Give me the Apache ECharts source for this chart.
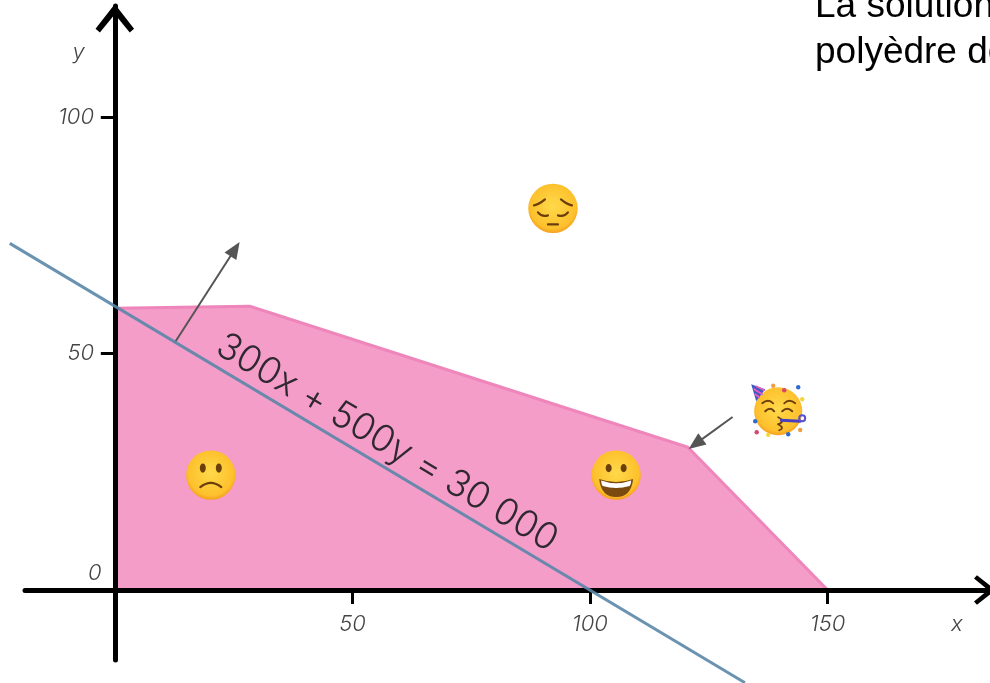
<!DOCTYPE html>
<html><head><meta charset="utf-8">
<style>html,body{margin:0;padding:0;background:#fff}#c{width:990px;height:683px}</style>
<script src="https://cdn.jsdelivr.net/npm/echarts@6/dist/echarts.min.js"></script>
</head><body><div id="c"></div>
<script>
const feasibleRegion = [[0,59.6],[28.4,60],[120.6,30.2],[150,0]];
const isoProfitLine = [[-22.1,73.3],[132.6,-19.6]];
const xTicks = [50,100,150];
const yTicks = [50,100];
const gradientArrow = [[12.6,52.3],[25.3,72.1]];
const optimumArrow = [[130,36.6],[122.2,30.9]];
const emojiSad = [[92.2,80.7]];
const emojiParty = [[139.6,37.8]];
const emojiFrown = [[20.2,24.3]];
const emojiGrin = [[105.5,24.3]];
const plotLabels = [
  {t:'0', at:[-4.2,3.6]},
  {t:'x', at:[177.2,-7.2]},
  {t:'y', at:[-7.6,113.6]}
];
const equationText = '300x + 500y = 30 000';
const equationAt = [57.3,31.1];
const introLines = ['La solution','polyèdre de'];

const chevronY = 'path://M0 23L18 0H22L40 23L35.5 27L20 8L4.5 27Z';
const inkFont = 'Inter';
const textFont = 'Liberation Sans';

function faceBase(cx,cy,r){
  return {type:'circle',shape:{cx,cy,r},style:{fill:new echarts.graphic.RadialGradient(0.5,0.45,0.58,[
    {offset:0,color:'#ffd94a'},{offset:0.8,color:'#fdc02c'},{offset:1,color:'#f29318'}])}};
}
const brown='#6b3f0c';
function eye(cx,cy,rx,ry){return {type:'ellipse',shape:{cx,cy,rx,ry},style:{fill:brown}};}
function curve(pts,w,c){return {type:'bezierCurve',shape:{x1:pts[0],y1:pts[1],cpx1:pts[2],cpy1:pts[3],x2:pts[4],y2:pts[5]},style:{fill:'none',stroke:c||brown,lineWidth:w||2,lineCap:'round'}};}
function seg(a,b,c,d,w,col){return {type:'line',shape:{x1:a,y1:b,x2:c,y2:d},style:{stroke:col||brown,lineWidth:w||2,lineCap:'round'}};}
function dot(cx,cy,col){return {type:'circle',shape:{cx,cy,r:2.2},style:{fill:col}};}
function emojiSeries(data,build){
  return {type:'custom',coordinateSystem:'cartesian2d',data,clip:false,z:20,silent:true,encode:{x:0,y:1},
    renderItem(p,api){
      const c=api.coord([api.value(0),api.value(1)]);
      return {type:'group',x:c[0],y:c[1],children:build()};
    }};
}
const R=24.7;
const option={
  animation:false,backgroundColor:'#fff',
  grid:{left:25,right:-3,top:6,bottom:23,outerBoundsMode:'none',containLabel:false},
  xAxis:{type:'value',min:-18.9,max:184.8,splitLine:{show:false},z:10,
    axisLine:{show:true,onZero:true,lineStyle:{color:'#000',width:5},symbol:['none',chevronY],symbolSize:[40,20],symbolOffset:[0,-9]},
    axisTick:{show:true,length:14,customValues:xTicks,lineStyle:{color:'#000',width:3}},
    axisLabel:{customValues:xTicks,margin:-47,fontFamily:inkFont,fontStyle:'italic',fontWeight:300,fontSize:22,color:'#444'}},
  yAxis:{type:'value',min:-14.8,max:123.5,splitLine:{show:false},z:10,
    axisLine:{show:true,onZero:true,lineStyle:{color:'#000',width:5},symbol:['none',chevronY],symbolSize:[40,26],symbolOffset:[0,-13.5]},
    axisTick:{show:true,length:14,customValues:yTicks,lineStyle:{color:'#000',width:3}},
    axisLabel:{customValues:yTicks,margin:-69,padding:[4,0,0,0],fontFamily:inkFont,fontStyle:'italic',fontWeight:300,fontSize:22,color:'#444'}},
  series:[
    {type:'line',data:feasibleRegion,showSymbol:false,z:1,clip:false,silent:true,
      lineStyle:{color:'#ee86bb',width:3},areaStyle:{color:'#f59dc9',opacity:1}},
    {type:'custom',coordinateSystem:'cartesian2d',data:isoProfitLine,clip:false,z:12,silent:true,encode:{x:0,y:1},
      renderItem(p,api){
        if(p.dataIndex!==0) return;
        const a=api.coord(isoProfitLine[0]),b=api.coord(isoProfitLine[1]);
        return {type:'line',shape:{x1:a[0],y1:a[1],x2:b[0],y2:b[1]},style:{stroke:'#5a86a8',lineWidth:3,opacity:0.9}};
      }},
    {type:'line',data:[],showSymbol:false,z:14,silent:true,
      markLine:{silent:true,animation:false,symbol:['none','triangle'],symbolSize:[14,17],label:{show:false},precision:4,
        lineStyle:{color:'#555',width:2,type:'solid'},emphasis:{disabled:true},
        data:[[{coord:gradientArrow[0]},{coord:gradientArrow[1]}],[{coord:optimumArrow[0]},{coord:optimumArrow[1]}]]}},
    {type:'custom',coordinateSystem:'cartesian2d',data:plotLabels.map(d=>d.at),clip:false,z:15,silent:true,encode:{x:0,y:1},
      renderItem(p,api){
        const c=api.coord([api.value(0),api.value(1)]);
        return {type:'text',x:c[0],y:c[1],style:{text:plotLabels[p.dataIndex].t,fontFamily:inkFont,fontStyle:'italic',fontWeight:300,fontSize:22,fill:'#444',align:'center',verticalAlign:'middle'}};
      }},
    {type:'custom',coordinateSystem:'cartesian2d',data:[equationAt],clip:false,z:15,silent:true,encode:{x:0,y:1},
      renderItem(p,api){
        const c=api.coord([api.value(0),api.value(1)]);
        return {type:'text',x:c[0],y:c[1],rotation:-30.8*Math.PI/180,style:{text:equationText,fontFamily:inkFont,fontWeight:300,fontSize:37,fill:'#2f2830',align:'center',verticalAlign:'middle'}};
      }},
    emojiSeries(emojiSad,()=>[faceBase(0,0,R),
      curve([-19,-3,-14,-4,-8,-9],2.2),curve([19,-3,14,-4,8,-9],2.2),
      curve([-15,4,-11,9,-5,7],2.2),curve([15,4,11,9,5,7],2.2),
      seg(-5,16,5,16,2.2)]),
    emojiSeries(emojiFrown,()=>[faceBase(0,0,R),
      eye(-8,-7,3,4.6),eye(8,-7,3,4.6),
      curve([-10.5,12,0,3.5,10.5,12],2.2)]),
    emojiSeries(emojiGrin,()=>[faceBase(0,0,R),
      eye(-7.5,-7,3,4.2),eye(7.5,-7,3,4.2),
      {type:'path',shape:{pathData:'M-17 4Q0 10 17 4Q15 22 0 22Q-15 22 -17 4Z'},style:{fill:'#7a4a10'}},
      {type:'path',shape:{pathData:'M-15 5.5Q0 11 15 5.5Q15 9 13.5 11Q0 15 -13.5 11Q-15 9 -15 5.5Z'},style:{fill:'#ffffff'}}]),
    emojiSeries(emojiParty,()=>[faceBase(0,0,R-0.7),
      {type:'polygon',shape:{points:[[-27,-27],[-13,-22],[-22,-10]]},style:{fill:'#3f59c4'}},
      seg(-24,-22,-16,-17,1.8,'#e85fc0'),seg(-23,-17,-19,-14,1.8,'#e85fc0'),seg(-22,-25,-14,-21,1.6,'#e85fc0'),
      curve([-16,-8,-10,-13,-5,-8],1.8),curve([6,-8,11,-13,17,-8],1.8),
      curve([-13,0,-8,-5,-4,0],2),curve([4,0,9,-5,14,0],2),
      curve([0,6,8,10,0,13],1.8),curve([0,13,7,17,1,19],1.8),
      seg(3,9,22,10,3,'#4a3fc0'),
      {type:'circle',shape:{cx:24,cy:7,r:3},style:{fill:'none',stroke:'#5a4fd0',lineWidth:2}},
      dot(6,-21,'#d8436f'),dot(20,-24,'#2f6ad0'),dot(24,-12,'#f5d63d'),dot(-5,-25.5,'#f0a040'),
      dot(-23,10,'#2f6ad0'),dot(-21.5,21,'#d8436f'),dot(-10,23.6,'#f5d63d'),dot(10,23,'#2f6ad0'),dot(22,18.7,'#f0a040')])
  ],
  graphic:[
    {type:'text',left:815,top:-12,silent:true,style:{text:introLines[0],fontFamily:textFont,fontSize:37,fill:'#000'}},
    {type:'text',left:815,top:34,silent:true,style:{text:introLines[1],fontFamily:textFont,fontSize:37,fill:'#000'}}
  ]
};
const chart=echarts.init(document.getElementById('c'),null,{renderer:'canvas'});
chart.setOption(option);
</script></body></html>
